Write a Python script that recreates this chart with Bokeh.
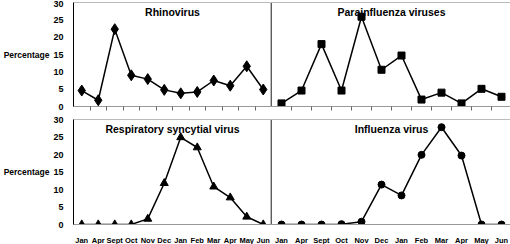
from bokeh.plotting import figure
from bokeh.layouts import gridplot
from bokeh.models import FixedTicker, Label, Span, Range1d
from bokeh.embed import file_html
from bokeh.resources import INLINE

months = ["Jan", "Apr", "Sept", "Oct", "Nov", "Dec", "Jan", "Feb", "Mar", "Apr", "May", "Jun"]
y_ticks = [0, 5, 10, 15, 20, 25, 30]
rhinovirus = [4.6, 1.8, 22.3, 9.0, 7.9, 4.8, 3.8, 4.2, 7.5, 6.0, 11.6, 4.9]
parainfluenza = [0.9, 4.6, 18.0, 4.6, 25.9, 10.6, 14.7, 2.0, 4.0, 0.9, 5.1, 2.8]
rsv = [0, 0, 0, 0, 1.6, 11.8, 24.9, 22.0, 10.8, 7.7, 2.2, 0]
influenza = [0, 0, 0, 0.1, 0.8, 11.4, 8.3, 19.9, 27.8, 19.7, 0, 0]

FONT = "Liberation Sans"
x = list(range(1, len(months) + 1))
X0, X1 = 0.5, len(months) + 0.5
Y0, Y1 = 0, 30


def panel(values, marker, size, title, left, top):
    p = figure(
        frame_width=198 if left else 240,
        frame_height=104 if top else 105,
        x_range=Range1d(X0, X1),
        y_range=Range1d(Y0, Y1),
        output_backend="svg",
        toolbar_location=None,
        y_axis_location="left" if left else None,
        min_border_left=60 if left else 0,
        min_border_right=0 if left else 2,
        min_border_top=2 if top else 5,
        min_border_bottom=8 if top else 16,
        background_fill_color="white",
        border_fill_color="white",
        outline_line_color="#bbbbbb",
    )
    p.xgrid.visible = False
    p.ygrid.visible = False

    # x axis
    xa = p.xaxis[0]
    xa.axis_line_color = "#999999"
    xa.minor_tick_line_color = None
    if top:
        ticks = [i + 0.5 for i in x[:-1]]
        xa.ticker = FixedTicker(ticks=ticks)
        xa.major_label_overrides = {t: "" for t in ticks}
        xa.major_tick_in = 0
        xa.major_tick_out = 4
        xa.major_tick_line_color = "#666666"
        xa.major_label_text_font_size = "6px"
        xa.major_label_standoff = 0
    else:
        xa.ticker = FixedTicker(ticks=x)
        xa.major_label_overrides = {i: m for i, m in zip(x, months)}
        xa.major_tick_line_color = None
        xa.major_label_standoff = 5
        xa.major_label_text_font = FONT
        xa.major_label_text_font_style = "bold"
        xa.major_label_text_font_size = "7.5px"
        xa.major_label_text_color = "black"

    # y axis
    if left:
        ya = p.yaxis[0]
        ya.ticker = FixedTicker(ticks=y_ticks)
        ya.axis_line_color = "black"
        ya.major_tick_line_color = None
        ya.minor_tick_line_color = None
        ya.major_label_standoff = 4
        ya.major_label_text_font = FONT
        ya.major_label_text_font_style = "bold"
        ya.major_label_text_font_size = "9px"
        ya.major_label_text_color = "black"
        ya.axis_label = "Percentage"
        ya.axis_label_text_font = FONT
        ya.axis_label_text_font_style = "bold"
        ya.axis_label_text_font_size = "8.5px"
        ya.axis_label_text_color = "black"
        ya.axis_label_standoff = 1
        try:
            ya.axis_label_orientation = "horizontal"
        except Exception:
            pass
    else:
        p.add_layout(Span(location=X0, dimension="height", line_color="black", line_width=1))

    p.line(x, values, line_color="black", line_width=1.5)
    p.scatter(x, values, marker=marker, size=size, fill_color="black", line_color="black")

    p.add_layout(Label(
        x=(X0 + X1) / 2, y=Y1, text=title, text_align="center", text_baseline="top",
        y_offset=-3, text_font=FONT, text_font_style="bold", text_font_size="10.5px",
        text_color="black",
    ))
    return p


p1 = panel(rhinovirus, "diamond", 11, "Rhinovirus", True, True)
p2 = panel(parainfluenza, "square", 7, "Parainfluenza viruses", False, True)
p3 = panel(rsv, "triangle", 8, "Respiratory syncytial virus", True, False)
p4 = panel(influenza, "circle", 7, "Influenza virus", False, False)

p = gridplot([[p1, p2], [p3, p4]], toolbar_location=None, merge_tools=False)

open("out.html", "w").write(file_html(p, INLINE))
